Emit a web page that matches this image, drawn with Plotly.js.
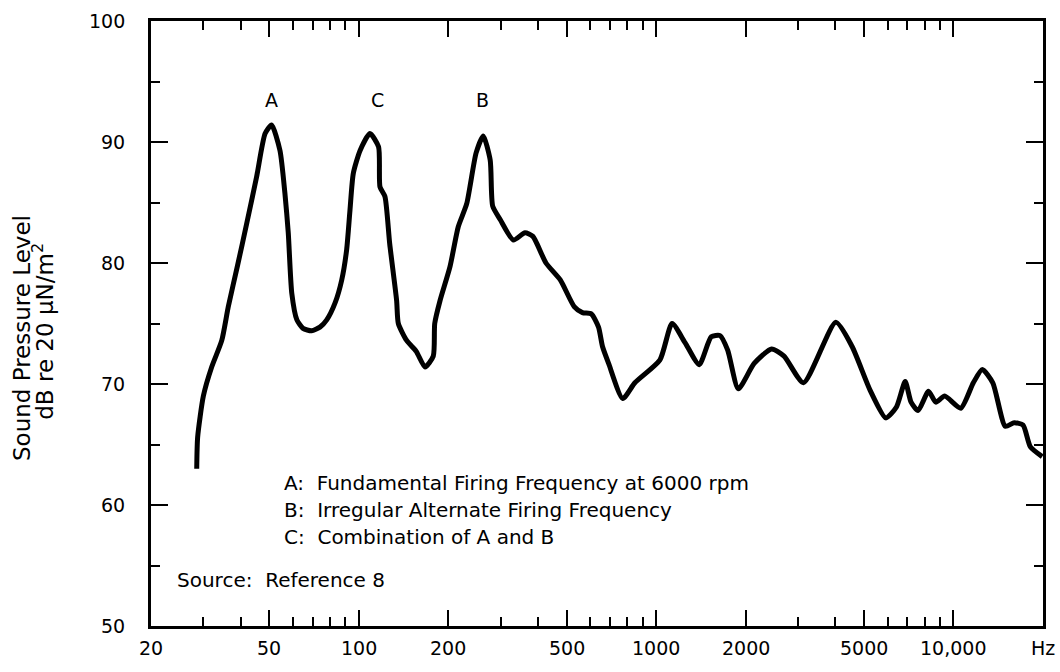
<!DOCTYPE html>
<html>
<head>
<meta charset="utf-8">
<script src="https://cdn.plot.ly/plotly-3.0.1.min.js"></script>
<style>html,body{margin:0;padding:0;background:#fff;}#chart{width:1060px;height:672px;}</style>
</head>
<body>
<div id="chart"></div>
<script>
// Frequency (Hz) and sound pressure level (dB re 20 µN/m²)
const freqHz = [28.5, 28.7, 30.0, 32.0, 34.6, 36.4, 39.1, 42.0, 45.3, 48.4, 50.9, 54.3, 56.4, 57.9, 59.5,
  61.9, 64.9, 69.4, 74.0, 78.0, 83.2, 87.6, 91.0, 93.4, 95.8, 101, 109, 116.5, 117.8, 122.4, 127, 134,
  135.8, 144.8, 156, 167, 178, 180, 187.6, 202.6, 216, 230.6, 248, 262, 276.6, 282, 298.8, 331, 362, 385,
  426, 476, 530, 565, 605, 640, 660, 692, 772, 848, 1030, 1131, 1252, 1396, 1532, 1640, 1740, 1890, 2136,
  2444, 2692, 3130, 4020, 4560, 5240, 5920, 6430, 6880, 7200, 7600, 8240, 8720, 9340, 10580, 11660, 12500,
  13560, 14940, 16000, 17140, 18140, 19880];
const levelDb = [63.0, 65.6, 69.0, 71.4, 73.6, 76.4, 79.8, 83.3, 87.1, 90.7, 91.4, 89.3, 85.8, 82.5, 77.5,
  75.3, 74.6, 74.4, 74.7, 75.3, 76.7, 78.6, 81.1, 84.4, 87.4, 89.3, 90.7, 89.6, 86.3, 85.5, 81.6, 76.9,
  75.0, 73.6, 72.7, 71.4, 72.3, 75.0, 76.9, 79.7, 83.0, 84.9, 89.1, 90.5, 88.5, 84.7, 83.6, 81.9, 82.5, 82.2,
  80.0, 78.6, 76.4, 75.9, 75.8, 74.7, 73.1, 71.7, 68.8, 70.1, 72.0, 75.0, 73.4, 71.6, 73.9, 74.0, 72.8, 69.6, 71.7,
  72.9, 72.3, 70.1, 75.1, 73.1, 69.5, 67.2, 68.1, 70.2, 68.5, 67.8, 69.4, 68.5, 69.0, 68.0, 70.1, 71.2,
  70.1, 66.5, 66.8, 66.6, 64.8, 64.0];

// Axis ticks
const xTickVals = [20, 50, 100, 200, 500, 1000, 2000, 5000, 10000, 20000];
const xTickText = ["20", "50", "100", "200", "500", "1000", "2000", "5000", "10,000", "Hz"];
const xMinorVals = [30, 40, 60, 70, 80, 90, 300, 400, 600, 700, 800, 900, 3000, 4000, 6000, 7000, 8000, 9000];
const yTickVals = [50, 60, 70, 80, 90, 100];
const yTickText = ["50", "60", "70", "80", "90", "100"];
const yMinorVals = [55, 65, 75, 85, 95];

// Peak labels
const peakNames = ["A", "C", "B"];
const peakFreq = [51, 116, 260];
const peakLabelDb = 93.5;

// Notes
const noteLines = [
  "A:\u00a0 Fundamental Firing Frequency at 6000 rpm",
  "B:\u00a0 Irregular Alternate Firing Frequency",
  "C:\u00a0 Combination of A and B"
];
const sourceText = "Source:\u00a0 Reference 8";
const yTitleLines = ["Sound Pressure Level", "dB re 20 \u03bcN/m<sup>2</sup>"];

const FONT = "'DejaVu Sans', sans-serif";
const XRANGE = [Math.log10(20), Math.log10(20000)];
const YRANGE = [50, 100];

const annotations = [];
// tick labels placed at the axis values
xTickVals.forEach((v, i) => {
  annotations.push({
    text: xTickText[i], x: Math.log10(v), y: -0.0364, xref: "x", yref: "paper",
    showarrow: false, xanchor: "center", yanchor: "middle",
    font: {family: FONT, size: 19, color: "#000"}
  });
});
yTickVals.forEach((v, i) => {
  annotations.push({
    text: yTickText[i], x: -0.0269, y: v, xref: "paper", yref: "y",
    showarrow: false, xanchor: "right", yanchor: "middle",
    font: {family: FONT, size: 19, color: "#000"}
  });
});
peakNames.forEach((n, i) => {
  annotations.push({
    text: n, x: Math.log10(peakFreq[i]), y: peakLabelDb, xref: "x", yref: "y",
    showarrow: false, xanchor: "center", yanchor: "middle",
    font: {family: FONT, size: 19, color: "#000"}
  });
});
const noteY = [0.236, 0.192, 0.147];
noteLines.forEach((t, i) => {
  annotations.push({
    text: t, x: 0.147, y: noteY[i], xref: "paper", yref: "paper",
    showarrow: false, xanchor: "left", yanchor: "middle",
    font: {family: FONT, size: 20, color: "#000"}
  });
});
annotations.push({
  text: sourceText, x: 0.027, y: 0.076, xref: "paper", yref: "paper",
  showarrow: false, xanchor: "left", yanchor: "middle",
  font: {family: FONT, size: 20, color: "#000"}
});
const yTitleX = [-0.1446, -0.1211];
const yTitleY = [0.476, 0.488];
yTitleLines.forEach((t, i) => {
  annotations.push({
    text: t, x: yTitleX[i], y: yTitleY[i], xref: "paper", yref: "paper",
    showarrow: false, xanchor: "center", yanchor: "middle", textangle: -90,
    font: {family: FONT, size: 23, color: "#000"}
  });
});

const trace = {
  x: freqHz, y: levelDb, type: "scatter", mode: "lines",
  line: {color: "#000", width: 5, shape: "spline", smoothing: 0.6},
  hoverinfo: "x+y"
};
// invisible trace so the overlay axes (carrying the long ticks) are drawn
const overlayTrace = {
  x: [freqHz[0]], y: [levelDb[0]], xaxis: "x2", yaxis: "y2",
  type: "scatter", mode: "none", hoverinfo: "skip", showlegend: false
};

const layout = {
  width: 1060, height: 672,
  margin: {l: 151, r: 17, t: 21, b: 46},
  paper_bgcolor: "#fff", plot_bgcolor: "rgba(0,0,0,0)",
  showlegend: false,
  font: {family: FONT, size: 19, color: "#000"},
  xaxis: {
    type: "log", range: XRANGE,
    tickmode: "array", tickvals: xTickVals, showticklabels: false,
    ticks: "inside", ticklen: 16, tickwidth: 2, tickcolor: "#000",
    showline: true, linecolor: "#000", linewidth: 3, mirror: "ticks",
    showgrid: false, zeroline: false,
    minor: {tickmode: "array", tickvals: xMinorVals, ticks: "inside", ticklen: 9, tickwidth: 2, tickcolor: "#000", showgrid: false}
  },
  yaxis: {
    range: YRANGE,
    tickmode: "array", tickvals: yTickVals, showticklabels: false,
    ticks: "inside", ticklen: 17, tickwidth: 2, tickcolor: "#000",
    showline: true, linecolor: "#000", linewidth: 3, mirror: "ticks",
    showgrid: false, zeroline: false,
    minor: {tickmode: "array", tickvals: yMinorVals, ticks: "inside", ticklen: 9, tickwidth: 2, tickcolor: "#000", showgrid: false}
  },
  xaxis2: {
    type: "log", range: XRANGE, overlaying: "x", anchor: "y",
    tickmode: "array", tickvals: xTickVals, showticklabels: false,
    ticks: "inside", ticklen: 16, tickwidth: 2, tickcolor: "#000",
    showline: false, mirror: "ticks", showgrid: false, zeroline: false
  },
  yaxis2: {
    range: YRANGE, overlaying: "y", anchor: "x", side: "left",
    tickmode: "array", tickvals: yTickVals, showticklabels: false,
    ticks: "inside", ticklen: 17, tickwidth: 2, tickcolor: "#000",
    showline: false, mirror: "ticks", showgrid: false, zeroline: false
  },
  annotations: annotations
};

Plotly.newPlot("chart", [trace, overlayTrace], layout, {displayModeBar: false});
</script>
</body>
</html>
